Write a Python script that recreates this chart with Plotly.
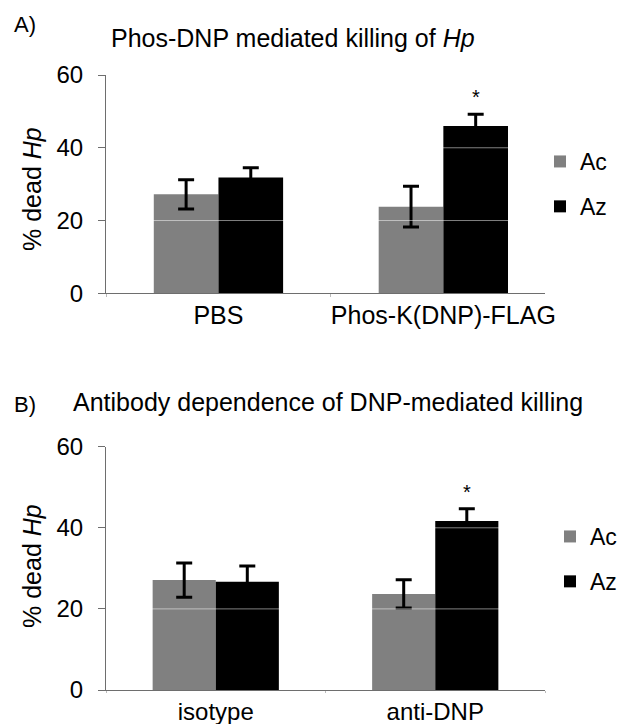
import plotly.graph_objects as go

# ---------------- data ----------------
cats_A = ["PBS", "Phos-K(DNP)-FLAG"]
ac_A = [27.2, 23.8]
ac_A_err = [4.0, 5.6]
az_A = [31.8, 46.0]
az_A_err = [2.7, 3.2]
sig_A = [False, True]

cats_B = ["isotype", "anti-DNP"]
ac_B = [27.1, 23.7]
ac_B_err = [4.2, 3.5]
az_B = [26.7, 41.7]
az_B_err = [3.9, 3.0]
sig_B = [False, True]

y_ticks = [0, 20, 40, 60]
series_names = ["Ac", "Az"]
series_colors = ["#808080", "#000000"]

W, H = 629, 724
FONT = "Liberation Sans, Arial, Helvetica, sans-serif"


def px_x(p):
    return p / W


def px_y(p):
    return 1 - p / H


fig = go.Figure()

panels = [
    dict(cats=cats_A, ac=ac_A, ace=ac_A_err, az=az_A, aze=az_A_err, sig=sig_A,
         xa="x", ya="y", legend="legend"),
    dict(cats=cats_B, ac=ac_B, ace=ac_B_err, az=az_B, aze=az_B_err, sig=sig_B,
         xa="x2", ya="y2", legend="legend2"),
]

for i, p in enumerate(panels):
    vals = [p["ac"], p["az"]]
    errs = [p["ace"], p["aze"]]
    for s in range(2):
        fig.add_trace(go.Bar(
            x=p["cats"], y=vals[s], name=series_names[s],
            marker=dict(color=series_colors[s], line=dict(width=0)),
            error_y=dict(type="data", array=errs[s], visible=True,
                         color="#000000", thickness=3, width=8),
            xaxis=p["xa"], yaxis=p["ya"], legend=p["legend"],
            legendgroup=f"{p['legend']}_{s}",
            hoverinfo="skip",
        ))
    # significance stars
    for j, flag in enumerate(p["sig"]):
        if flag:
            fig.add_annotation(
                x=j + 0.144, y=p["az"][j] + p["aze"][j],
                xref=p["xa"], yref=p["ya"],
                text="*", showarrow=False, yanchor="bottom",
                yshift=4, font=dict(size=20, color="black", family=FONT))
    # faint white gridlines drawn over bars
    for t in y_ticks[1:-1]:
        fig.add_shape(type="line", xref=f"{p['xa']} domain", yref=p["ya"],
                      x0=0, x1=1, y0=t, y1=t, layer="above",
                      line=dict(color="rgba(255,255,255,0.5)", width=1))

axis_common = dict(showline=True, linecolor="#6e6e6e", linewidth=1,
                   showgrid=False, zeroline=False, automargin=False)
ytick_font = dict(size=24, color="black", family=FONT)
xtick_font_A = dict(size=25, color="black", family=FONT)
xtick_font_B = dict(size=24, color="black", family=FONT)

xdom = [px_x(106), px_x(545)]
fig.update_layout(
    width=W, height=H,
    margin=dict(l=0, r=0, t=0, b=0, autoexpand=False),
    paper_bgcolor="white", plot_bgcolor="white",
    barmode="group", bargap=0.425,
    font=dict(family=FONT, color="black"),
    xaxis=dict(domain=xdom, anchor="y", range=[-0.5, 1.452], type="category",
               ticks="outside", tickson="boundaries", ticklen=3, tickangle=0,
               tickcolor="#bbbbbb", ticklabelstandoff=0, tickfont=xtick_font_A,
               **axis_common),
    yaxis=dict(domain=[px_y(293.3), px_y(75)], anchor="x", range=[0, 60],
               tickvals=y_ticks, ticks="outside", ticklen=7,
               tickcolor="#6e6e6e", ticklabelstandoff=10, tickfont=ytick_font,
               **axis_common),
    xaxis2=dict(domain=xdom, anchor="y2", range=[-0.5, 1.5], type="category",
                ticks="outside", tickson="boundaries", ticklen=2, tickangle=0,
                tickcolor="#bbbbbb", ticklabelstandoff=0, tickfont=xtick_font_B,
                **axis_common),
    yaxis2=dict(domain=[px_y(690), px_y(446.7)], anchor="x2", range=[0, 60],
                tickvals=y_ticks, ticks="outside", ticklen=7,
                tickcolor="#6e6e6e", ticklabelstandoff=10, tickfont=ytick_font,
                **axis_common),
    legend=dict(x=px_x(540), y=px_y(140), xanchor="left", yanchor="top",
                font=dict(size=23, color="black", family=FONT),
                tracegroupgap=12, traceorder="grouped",
                bgcolor="rgba(0,0,0,0)"),
    legend2=dict(x=px_x(550), y=px_y(515), xanchor="left", yanchor="top",
                 font=dict(size=23, color="black", family=FONT),
                 tracegroupgap=12, traceorder="grouped",
                 bgcolor="rgba(0,0,0,0)"),
    showlegend=True,
)

# panel labels, titles and axis titles
texts = [
    ("A)", 12, 25, 22),
    ("Phos-DNP mediated killing of <i>Hp</i>", 109, 38, 25),
    ("B)", 12, 404, 22),
    ("Antibody dependence of DNP-mediated killing", 71, 402, 25),
]
for txt, x, y, size in texts:
    fig.add_annotation(x=px_x(x), y=px_y(y), xref="paper", yref="paper",
                       text=txt, showarrow=False, xanchor="left",
                       yanchor="middle",
                       font=dict(size=size, color="black", family=FONT))

for yc in [189, 566]:
    fig.add_annotation(x=px_x(32), y=px_y(yc), xref="paper", yref="paper",
                       text="% dead <i>Hp</i>", showarrow=False, textangle=-90,
                       xanchor="center", yanchor="middle",
                       font=dict(size=25, color="black", family=FONT))

fig.write_html(
    "out.html",
    config={"displayModeBar": False, "responsive": False},
    post_script="document.body.style.margin='0';document.body.style.overflow='hidden';",
)
